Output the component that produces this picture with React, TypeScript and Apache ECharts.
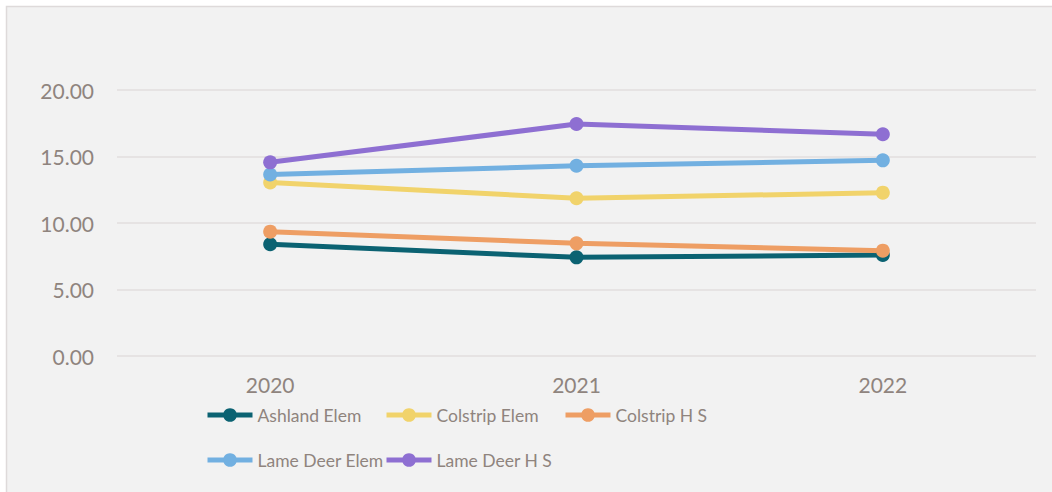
import React, { useEffect, useRef } from "react";
import * as echarts from "echarts";

// School years on the category axis
const years = ["2020", "2021", "2022"];

// One value per year for each school
const ashlandElem = [8.4, 7.42, 7.59];
const colstripElem = [13.05, 11.86, 12.28];
const colstripHS = [9.35, 8.47, 7.92];
const lameDeerElem = [13.65, 14.3, 14.71];
const lameDeerHS = [14.56, 17.44, 16.67];

const seriesNames = [
  "Ashland Elem",
  "Colstrip Elem",
  "Colstrip H S",
  "Lame Deer Elem",
  "Lame Deer H S",
];
const seriesValues = [ashlandElem, colstripElem, colstripHS, lameDeerElem, lameDeerHS];
const seriesColors = ["#0b6272", "#f1d36b", "#ee9e64", "#72b0e1", "#8e6fd2"];

const FONT = "Lato";
const TEXT = "#8f847e";

export default function App() {
  const ref = useRef<HTMLDivElement>(null);

  useEffect(() => {
    document.body.style.margin = "0";
    const chart = echarts.init(ref.current!, undefined, { renderer: "svg" });

    // Legend laid out as a grid: three entries per row
    const legends = seriesNames.map((name, i) => ({
      show: true,
      data: [name],
      left: 205 + (i % 3) * 179,
      top: 403 + Math.floor(i / 3) * 45,
      padding: 0,
      itemWidth: 45,
      itemHeight: 17,
      selectedMode: false,
      lineStyle: { width: 5 },
      textStyle: {
        color: TEXT,
        fontFamily: FONT,
        fontSize: 17.5,
        lineHeight: 24,
      },
    }));

    chart.setOption({
      animation: false,
      backgroundColor: "#ffffff",
      graphic: [
        {
          type: "rect",
          z: -10,
          silent: true,
          shape: { x: 6.5, y: 6.5, width: 1060, height: 500 },
          style: { fill: "#f2f2f2", stroke: "#dedada", lineWidth: 1.5 },
        },
      ],
      grid: { left: 117, right: 16, top: 90, bottom: 136 },
      legend: legends,
      xAxis: {
        type: "category",
        data: years,
        boundaryGap: true,
        axisLine: { show: false },
        axisTick: { show: false },
        axisLabel: {
          color: TEXT,
          fontFamily: FONT,
          fontSize: 21,
          margin: 18,
        },
      },
      yAxis: {
        type: "value",
        min: 0,
        max: 20,
        interval: 5,
        axisLine: { show: false },
        axisTick: { show: false },
        splitLine: { lineStyle: { color: "#e2dede", width: 1.5 } },
        axisLabel: {
          color: TEXT,
          fontFamily: FONT,
          fontSize: 21,
          margin: 23,
          formatter: (v: number) => v.toFixed(2),
        },
      },
      series: seriesNames.map((name, i) => ({
        name,
        type: "line",
        data: seriesValues[i],
        symbol: "circle",
        symbolSize: 14,
        color: seriesColors[i],
        lineStyle: { width: 5, color: seriesColors[i] },
        itemStyle: { color: seriesColors[i] },
      })),
    });

    return () => chart.dispose();
  }, []);

  return (
    <div
      ref={ref}
      style={{ position: "absolute", left: 0, top: 0, width: 1052, height: 492 }}
    />
  );
}
